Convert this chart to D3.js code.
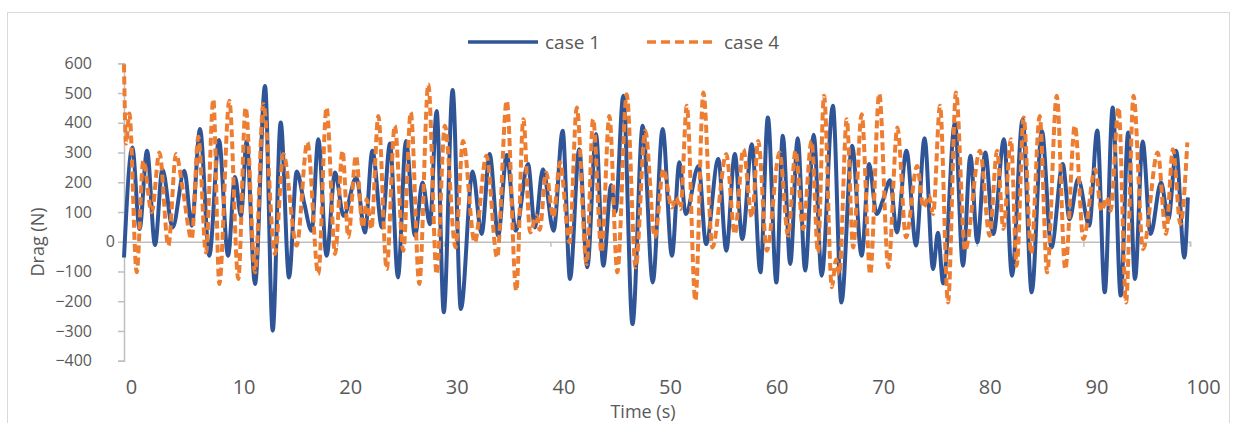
<!DOCTYPE html>
<html>
<head>
<meta charset="utf-8">
<script src="https://cdn.jsdelivr.net/npm/d3@7"></script>
<style>
  body { margin: 0; background: #fff; }
  text { font-family: "Open Sans", sans-serif; fill: #595959; }
</style>
</head>
<body>
<svg id="chart" width="1239" height="423"></svg>
<script>
// values (peaks and troughs of each signal)
const case1Time = [0, 0.78, 1.46, 2.16, 2.91, 3.6, 4.56, 5.66, 6.35, 7.13, 8.0, 8.91, 9.76, 10.41, 10.97, 11.5,
  12.29, 13.23, 13.95, 14.7, 15.48, 16.2, 16.9, 17.6, 18.23, 19.0, 19.8, 20.6, 21.8, 22.6, 23.3, 24.2, 24.95,
  25.7, 26.45, 27.3, 28.0, 28.7, 29.33, 30.0, 30.83, 31.6, 32.7, 33.55, 34.3, 35.1, 35.9, 36.75, 37.9, 38.55,
  39.3, 40.3, 41.15, 41.84, 42.7, 43.46, 44.28, 44.96, 45.7, 46.1, 46.84, 47.7, 48.66, 49.6, 50.53, 51.4, 52.1,
  52.7, 53.9, 54.6, 55.75, 56.5, 57.3, 58.0, 58.9, 59.7, 60.4, 61.2, 61.8, 62.5, 63.2, 63.9, 64.7, 65.45, 66.5,
  67.3, 68.3, 69.2, 69.9, 70.6, 71.2, 71.86, 72.5, 73.4, 74.3, 75.1, 75.9, 76.35, 76.85, 77.95, 78.7, 79.4,
  80.05, 80.8, 81.55, 82.55, 83.3, 84.3, 85.15, 86.1, 87.0, 88.06, 88.7, 89.5, 90.55, 91.3, 92.0, 92.75, 93.5,
  94.2, 94.84, 95.56, 96.3, 97.28, 97.97, 98.7, 99.47, 99.8];
const case1Drag = [-53, 317, 43, 306, -11, 244, 48, 239, 54, 379, -47, 342, -47, 218, 87, 337,
  -142, 524, -299, 401, -120, 236, 130, 37, 345, -47, 233, 87, 216, 31, 306, 48, 330,
  -120, 339, 20, 199, 59, 440, -237, 510, -226, 236, 26, 295, 20, 292, 37, 261, 48,
  244, 37, 373, -125, 311, -86, 362, -81, 190, 100, 491, -277, 390, -137, 379, -47, 267,
  93, 255, -8, 278, -30, 295, 9, 328, -103, 418, -137, 356, -75, 348, -97, 360, -114, 457,
  -204, 323, -47, 261, 93, 140, 207, 31, 306, -13, 348, -92, 30, -140, 401, -81, 289,
  -2, 300, 26, 345, -114, 412, -170, 373, -19, 261, 76, 211, 54, 374, -170, 451, -181,
  367, -125, 337, 26, 199, 76, 306, -53, 149];

const case4Time = [0, 0.19, 0.5, 1.19, 1.81, 2.6, 3.32, 4.16, 4.88, 5.5, 6.35, 6.97, 7.69, 8.38, 8.94, 9.88,
  10.72, 11.41, 12.3, 13.07, 14.17, 14.95, 16.2, 17.2, 18.23, 19.0, 19.8, 20.5, 21.04, 21.76, 22.4, 22.77,
  23.2, 23.86, 24.64, 25.4, 26.2, 26.9, 27.7, 28.55, 29.33, 30.1, 31.1, 31.8, 32.9, 34.0, 35.0, 35.9, 36.8,
  37.46, 38.1, 38.7, 39.0, 39.6, 40.27, 40.9, 41.8, 42.47, 43.4, 44.0, 44.8, 45.53, 46.28, 47.16, 48.0, 48.9,
  49.8, 50.6, 51.4, 51.8, 52.2, 52.8, 53.6, 54.35, 55.2, 56.5, 57.3, 58.1, 58.9, 59.5, 60.3, 61.5, 62.3, 63.0,
  63.7, 64.5, 65.1, 65.67, 66.4, 66.8, 67.1, 67.8, 68.4, 69.2, 70.0, 70.85, 71.7, 72.55, 73.36, 74.4, 75.0,
  75.5, 75.9, 76.55, 77.3, 78.05, 78.9, 80.3, 81.2, 81.9, 82.5, 83.2, 83.74, 84.4, 85.1, 85.9, 86.6, 87.5,
  88.3, 89.2, 90.0, 91.1, 91.7, 92.2, 92.55, 93.3, 94.0, 94.7, 95.6, 96.97, 97.75, 98.4, 99.1, 99.75];
const case4Drag = [597, 330, 431, -103, 272, 99, 300, -13, 295, 180, 9, 353, -36, 479, -142, 474,
  -125, 451, -103, 463, -41, 295, -13, 334, -109, 451, -41, 306, 15, 289, 48, 143,
  43, 423, -92, 390, -30, 435, -142, 530, -109, 390, -19, 339, -2, 289, -53, 474, -165,
  412, 31, 87, 40, 233, 82, 267, -2, 451, -75, 412, -36, 423, -103, 496, -86, 373,
  15, 244, 115, 149, 110, 457, -198, 502, -19, 295, 26, 311, 82, 339, -30, 300, 20, 306,
  43, 339, -36, 491, -153, -60, -110, 412, -19, 429, -109, 498, -86, 384, 15, 255, 115,
  155, 93, 457, -204, 502, -30, 306, 20, 306, 43, 345, -81, 418, -40, 423, -103, 491,
  -92, 390, 9, 244, 104, 149, 104, 451, -204, 491, -25, 300, 26, 311, 59, 334];

const seriesNames = ["case 1", "case 4"];
const seriesColors = ["#2F5597", "#ED7D31"];
const xTicks = d3.range(0, 101, 10);
const yTicks = d3.range(-400, 601, 100);

const svg = d3.select("#chart");

// outer chart border
svg.append("rect")
    .attr("x", 7.5).attr("y", 12.5)
    .attr("width", 1222).attr("height", 430)
    .attr("fill", "none")
    .attr("stroke", "#D9D9D9");

const xScale = d3.scaleLinear().domain([0, 100]).range([124, 1190]);
const yScale = d3.scaleLinear().domain([-400, 600]).range([360.7, 63.3]);

// y axis
const yAxis = svg.append("g")
    .attr("transform", "translate(124,0)")
    .call(d3.axisLeft(yScale).tickValues(yTicks).tickSize(6).tickPadding(26));
yAxis.select(".domain").attr("stroke", "#BFBFBF").attr("stroke-width", 1.5);
yAxis.selectAll(".tick line").attr("stroke", "#BFBFBF").attr("stroke-width", 1.5);
yAxis.selectAll(".tick text")
    .style("font-size", "16px")
    .attr("x", d => d == 0 ? -9 : -32);

// horizontal axis line at zero, with tick marks
const xAxisLine = svg.append("g")
    .attr("transform", "translate(0," + yScale(0) + ")")
    .call(d3.axisBottom(xScale).tickValues(xTicks).tickSize(5).tickFormat(""));
xAxisLine.select(".domain").attr("stroke", "#BFBFBF").attr("stroke-width", 1.5);
xAxisLine.selectAll(".tick line").attr("stroke", "#BFBFBF").attr("stroke-width", 1.5);

// x labels sit low, under the plot
const xLabels = svg.append("g")
    .attr("transform", "translate(0,380)")
    .call(d3.axisBottom(xScale).tickValues(xTicks).tickSize(0).tickPadding(0));
xLabels.select(".domain").remove();
xLabels.selectAll(".tick text")
    .style("font-size", "20px")
    .attr("dx", d => d == 0 ? 7 : 13);

// axis titles
svg.append("text")
    .attr("x", 643).attr("y", 418)
    .attr("text-anchor", "middle")
    .style("font-size", "18px")
    .text("Time (s)");

svg.append("text")
    .attr("transform", "translate(44,242) rotate(-90)")
    .attr("text-anchor", "middle")
    .style("font-size", "18px")
    .text("Drag (N)");

// lines
const line = d3.line()
    .x(d => xScale(d[0]))
    .y(d => yScale(d[1]))
    .curve(d3.curveMonotoneX);

const series = [d3.zip(case1Time, case1Drag), d3.zip(case4Time, case4Drag)];

svg.append("g").selectAll("path")
    .data(series)
    .enter()
    .append("path")
    .attr("d", line)
    .attr("fill", "none")
    .attr("stroke", (d, i) => seriesColors[i])
    .attr("stroke-width", 4)
    .attr("stroke-dasharray", (d, i) => i == 1 ? "8,4" : null)
    .attr("stroke-linejoin", "round");

// legend
const legendX = [468, 647];
const legend = svg.append("g")
    .selectAll("g")
    .data(seriesNames)
    .enter()
    .append("g")
    .attr("transform", (d, i) => "translate(" + legendX[i] + ",42)");

legend.append("line")
    .attr("x1", 0).attr("x2", 70)
    .attr("stroke", (d, i) => seriesColors[i])
    .attr("stroke-width", 3.5)
    .attr("stroke-dasharray", (d, i) => i == 1 ? "9,5" : null);

legend.append("text")
    .attr("x", 77).attr("y", 7)
    .style("font-size", "19px")
    .text(d => d);
</script>
</body>
</html>
